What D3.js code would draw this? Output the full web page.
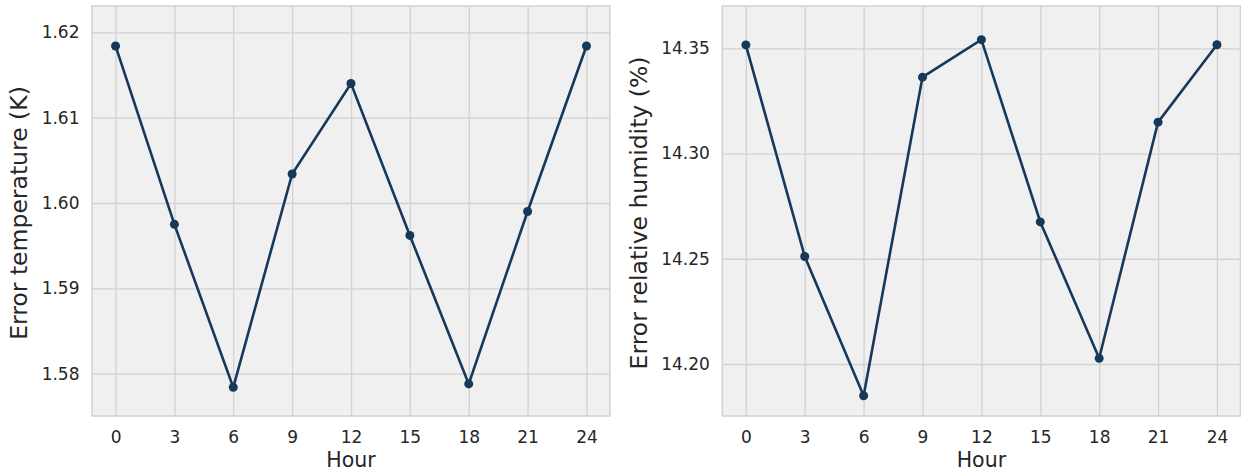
<html>
<head>
<script src="https://d3js.org/d3.v7.min.js"></script>
<style>
body { margin: 0; background: #fff; }
svg text { font-family: "DejaVu Sans", sans-serif; }
.grid line { stroke: #d2d2d2; stroke-width: 1.3; }
.grid text { fill: #262626; font-size: 17px; font-family: "DejaVu Sans", sans-serif; }
</style>
</head>
<body>
<svg width="1241" height="472"></svg>
<script>
// forecast hours
const hours = [0, 3, 6, 9, 12, 15, 18, 21, 24];
// error of 2 m temperature (K)
const tempError = [1.6184, 1.5975, 1.5784, 1.6034, 1.6140, 1.5962, 1.5788, 1.5990, 1.6184];
// error of relative humidity (%)
const rhError = [14.3516, 14.2511, 14.1849, 14.3363, 14.3541, 14.2675, 14.2027, 14.3149, 14.3517];
const hourTicks = [0, 3, 6, 9, 12, 15, 18, 21, 24];
const tempTicks = [1.58, 1.59, 1.60, 1.61, 1.62];
const rhTicks = [14.20, 14.25, 14.30, 14.35];

const svg = d3.select("svg");
const lineColor = "#16385a";

function panel(cfg) {
    const g = svg.append("g");
    const x = d3.scaleLinear().domain([-1.2, 25.2]).range([cfg.left, cfg.right]);
    const y = d3.scaleLinear().domain(cfg.yDomain).range([416, 6]);

    // plot background
    g.append("rect")
        .attr("x", cfg.left).attr("y", 6)
        .attr("width", cfg.right - cfg.left).attr("height", 410)
        .attr("fill", "#f0f0f0");

    // x grid + labels
    g.append("g")
        .attr("class", "grid")
        .attr("transform", "translate(0,416)")
        .call(d3.axisBottom(x).tickValues(hourTicks).tickSize(-410).tickPadding(14.6))
        .call(a => a.select(".domain").remove())
        .attr("font-family", null).attr("font-size", null);

    // y grid + labels
    g.append("g")
        .attr("class", "grid")
        .attr("transform", `translate(${cfg.left},0)`)
        .call(d3.axisLeft(y).tickValues(cfg.yTicks).tickFormat(d3.format(".2f"))
            .tickSize(-(cfg.right - cfg.left)).tickPadding(12.5))
        .call(a => a.select(".domain").remove())
        .attr("font-family", null).attr("font-size", null);

    // frame
    g.append("rect")
        .attr("x", cfg.left).attr("y", 6)
        .attr("width", cfg.right - cfg.left).attr("height", 410)
        .attr("fill", "none").attr("stroke", "#d2d2d2").attr("stroke-width", 1.5);

    const pts = hours.map((h, i) => [h, cfg.values[i]]);
    g.append("path")
        .datum(pts)
        .attr("fill", "none")
        .attr("stroke", lineColor)
        .attr("stroke-width", 2.6)
        .attr("d", d3.line().x(d => x(d[0])).y(d => y(d[1])));

    g.selectAll("circle.pt")
        .data(pts)
        .enter()
        .append("circle")
        .attr("cx", d => x(d[0]))
        .attr("cy", d => y(d[1]))
        .attr("r", 4.5)
        .attr("fill", lineColor);

    g.append("text")
        .attr("x", (cfg.left + cfg.right) / 2)
        .attr("y", 467)
        .attr("text-anchor", "middle")
        .attr("fill", "#262626")
        .style("font-size", "20.5px")
        .text("Hour");

    g.append("text")
        .attr("transform", `translate(${cfg.labelX},213) rotate(-90)`)
        .attr("text-anchor", "middle")
        .attr("fill", "#262626")
        .style("font-size", "23.5px")
        .text(cfg.label);
}

panel({
    left: 92, right: 610,
    yDomain: [1.575044, 1.623081],
    yTicks: tempTicks,
    values: tempError,
    label: "Error temperature (K)",
    labelX: 27
});

panel({
    left: 722.3, right: 1240.5,
    yDomain: [14.17529, 14.37010],
    yTicks: rhTicks,
    values: rhError,
    label: "Error relative humidity (%)",
    labelX: 647
});
</script>
</body>
</html>
